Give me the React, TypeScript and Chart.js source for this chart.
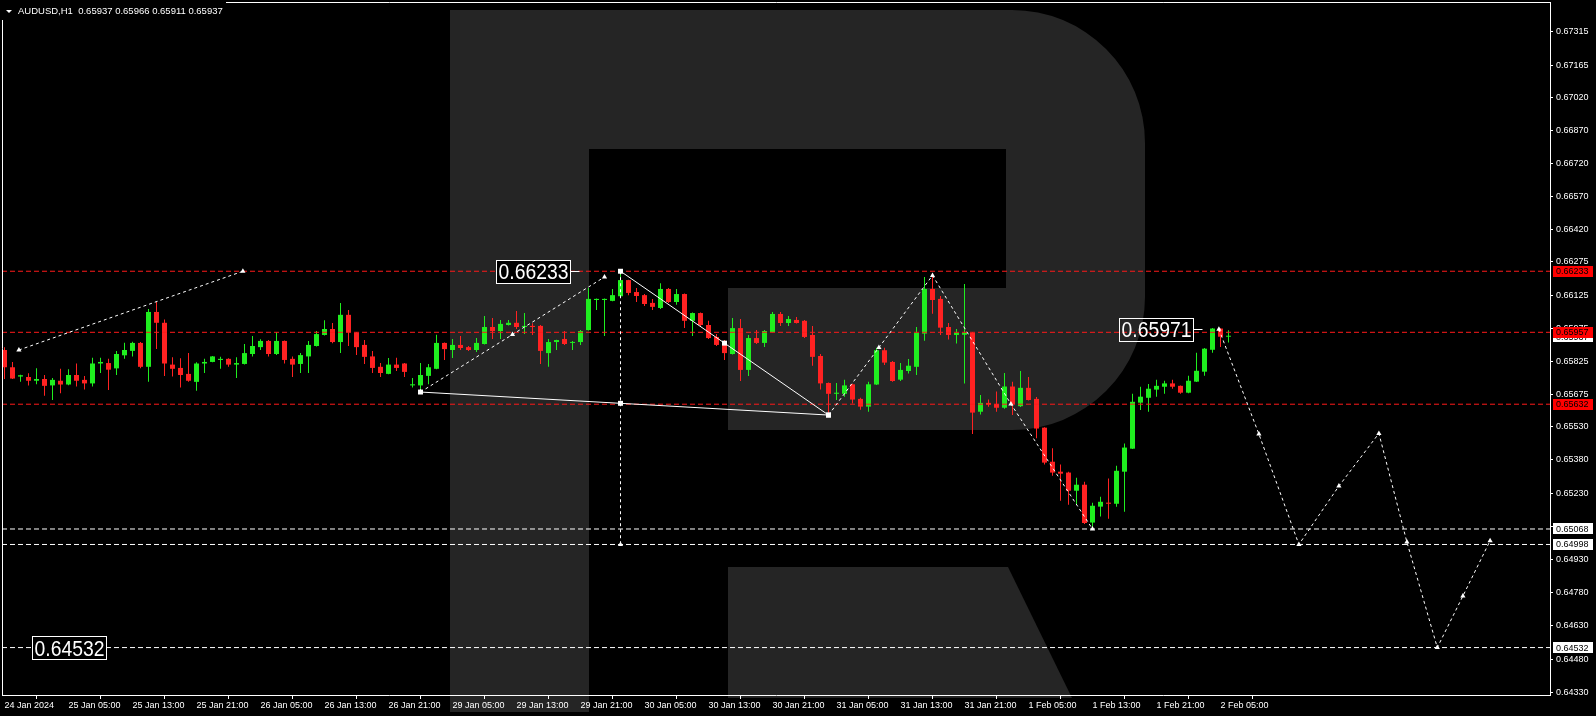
import { useEffect, useRef } from "react";
import { Chart, registerables } from "chart.js";

Chart.register(...registerables);

const FONT = "'Liberation Sans', Arimo, Arial, sans-serif";
const BULL = "#1fee1f";
const BEAR = "#ff2222";
const LEVEL_RED = "#ff1a1a";
const WATERMARK = "#252525";

const symbolTitle = "AUDUSD,H1";
const lastQuote = ["0.65937", "0.65966", "0.65911", "0.65937"];

const timeLabels = [
  "24 Jan 2024", "25 Jan 05:00", "25 Jan 13:00", "25 Jan 21:00", "26 Jan 05:00",
  "26 Jan 13:00", "26 Jan 21:00", "29 Jan 05:00", "29 Jan 13:00", "29 Jan 21:00",
  "30 Jan 05:00", "30 Jan 13:00", "30 Jan 21:00", "31 Jan 05:00", "31 Jan 13:00",
  "31 Jan 21:00", "1 Feb 05:00", "1 Feb 13:00", "1 Feb 21:00", "2 Feb 05:00",
];
const barsPerLabel = 8;

const priceTicks = [
  0.67315, 0.67165, 0.6702, 0.6687, 0.6672, 0.6657, 0.6642, 0.66275, 0.66125, 0.65975,
  0.65825, 0.65675, 0.6553, 0.6538, 0.6523, 0.6508, 0.6493, 0.6478, 0.6463, 0.6448, 0.6433,
];

const opens = [
  0.65877, 0.65799, 0.65757, 0.65755, 0.65738, 0.65746, 0.65717, 0.65738, 0.65721, 0.65764,
  0.65742, 0.65726, 0.65816, 0.65818, 0.65794, 0.65853, 0.65873, 0.65909, 0.65801, 0.66049,
  0.66000, 0.65811, 0.65796, 0.65769, 0.65733, 0.65816, 0.65823, 0.65832, 0.65837, 0.65811,
  0.65814, 0.65859, 0.65890, 0.65918, 0.65859, 0.65918, 0.65837, 0.65814, 0.65848, 0.65895,
  0.65945, 0.65972, 0.65913, 0.66036, 0.65955, 0.65900, 0.65848, 0.65801, 0.65769, 0.65811,
  0.65816, 0.65717, 0.65717, 0.65760, 0.65792, 0.65909, 0.65877, 0.65900, 0.65890, 0.65877,
  0.65904, 0.65981, 0.65963, 0.65990, 0.66000, 0.65981, 0.65986, 0.65986, 0.65863, 0.65913,
  0.65927, 0.65909, 0.65913, 0.65967, 0.66103, 0.66103, 0.66099, 0.66120, 0.66193, 0.66139,
  0.66125, 0.66090, 0.66067, 0.66153, 0.66094, 0.66130, 0.66009, 0.66044, 0.65990, 0.65936,
  0.65900, 0.65859, 0.65976, 0.65787, 0.65931, 0.65909, 0.65958, 0.66040, 0.65999, 0.66013,
  0.66009, 0.65945, 0.65850, 0.65728, 0.65679, 0.65679, 0.65722, 0.65656, 0.65621, 0.65721,
  0.65876, 0.65823, 0.65743, 0.65782, 0.65801, 0.65951, 0.66153, 0.66108, 0.65981, 0.65945,
  0.65946, 0.65954, 0.65598, 0.65638, 0.65633, 0.65616, 0.65712, 0.65623, 0.65706, 0.65656,
  0.65526, 0.65372, 0.65327, 0.65323, 0.65241, 0.65268, 0.65097, 0.65169, 0.65187, 0.65182,
  0.65327, 0.65431, 0.65639, 0.65661, 0.65698, 0.65711, 0.65726, 0.65715, 0.65684, 0.65734,
  0.65779, 0.65878, 0.65974, 0.65937,
];
const highs = [
  0.65890, 0.65823, 0.65765, 0.65772, 0.65795, 0.65764, 0.65750, 0.65792, 0.65790, 0.65816,
  0.65760, 0.65842, 0.65842, 0.65837, 0.65873, 0.65910, 0.65914, 0.65913, 0.66062, 0.66094,
  0.66015, 0.65844, 0.65840, 0.65863, 0.65822, 0.65837, 0.65850, 0.65846, 0.65840, 0.65844,
  0.65904, 0.65940, 0.65926, 0.65922, 0.65957, 0.65920, 0.65848, 0.65863, 0.65918, 0.65963,
  0.66011, 0.65999, 0.66089, 0.66058, 0.65958, 0.65922, 0.65873, 0.65818, 0.65841, 0.65842,
  0.65818, 0.65750, 0.65818, 0.65814, 0.65946, 0.65911, 0.65927, 0.65940, 0.65895, 0.65931,
  0.66031, 0.66022, 0.66013, 0.66013, 0.66053, 0.66044, 0.65998, 0.65990, 0.65927, 0.65923,
  0.65963, 0.65918, 0.65967, 0.66157, 0.66110, 0.66110, 0.66153, 0.66233, 0.66195, 0.66157,
  0.66130, 0.66108, 0.66179, 0.66157, 0.66153, 0.66132, 0.66046, 0.66046, 0.66009, 0.65949,
  0.65922, 0.66022, 0.66017, 0.65945, 0.65967, 0.65967, 0.66049, 0.66049, 0.66031, 0.66026,
  0.66013, 0.65986, 0.65859, 0.65730, 0.65728, 0.65742, 0.65725, 0.65661, 0.65734, 0.65887,
  0.65887, 0.65827, 0.65818, 0.65836, 0.65981, 0.66207, 0.66216, 0.66121, 0.65999, 0.65972,
  0.66175, 0.65958, 0.65674, 0.65653, 0.65689, 0.65773, 0.65733, 0.65782, 0.65755, 0.65665,
  0.65528, 0.65433, 0.65359, 0.65327, 0.65300, 0.65282, 0.65187, 0.65214, 0.65296, 0.65354,
  0.65454, 0.65679, 0.65711, 0.65723, 0.65743, 0.65738, 0.65743, 0.65716, 0.65761, 0.65865,
  0.65886, 0.65976, 0.65975, 0.65966,
];
const lows = [
  0.65746, 0.65746, 0.65734, 0.65717, 0.65722, 0.65670, 0.65651, 0.65681, 0.65718, 0.65712,
  0.65699, 0.65712, 0.65773, 0.65696, 0.65764, 0.65837, 0.65848, 0.65794, 0.65733, 0.65881,
  0.65760, 0.65757, 0.65707, 0.65733, 0.65693, 0.65773, 0.65822, 0.65792, 0.65801, 0.65751,
  0.65811, 0.65848, 0.65877, 0.65848, 0.65854, 0.65816, 0.65755, 0.65773, 0.65773, 0.65893,
  0.65943, 0.65907, 0.65863, 0.65895, 0.65854, 0.65814, 0.65773, 0.65755, 0.65767, 0.65782,
  0.65755, 0.65708, 0.65696, 0.65722, 0.65790, 0.65832, 0.65841, 0.65877, 0.65873, 0.65868,
  0.65902, 0.65927, 0.65927, 0.65988, 0.65972, 0.65949, 0.65945, 0.65814, 0.65801, 0.65877,
  0.65900, 0.65877, 0.65900, 0.65965, 0.66058, 0.65940, 0.66097, 0.66118, 0.66125, 0.66094,
  0.66076, 0.66058, 0.66062, 0.66090, 0.66081, 0.65977, 0.65940, 0.65986, 0.65927, 0.65895,
  0.65832, 0.65857, 0.65737, 0.65759, 0.65904, 0.65891, 0.65956, 0.65986, 0.65986, 0.65997,
  0.65931, 0.65806, 0.65698, 0.65586, 0.65651, 0.65666, 0.65635, 0.65607, 0.65598, 0.65719,
  0.65809, 0.65733, 0.65737, 0.65771, 0.65764, 0.65919, 0.66041, 0.65945, 0.65924, 0.65906,
  0.65726, 0.65497, 0.65585, 0.65621, 0.65598, 0.65611, 0.65583, 0.65619, 0.65649, 0.65478,
  0.65359, 0.65309, 0.65196, 0.65178, 0.65178, 0.65090, 0.65068, 0.65124, 0.65114, 0.65169,
  0.65146, 0.65429, 0.65606, 0.65598, 0.65666, 0.65679, 0.65702, 0.65679, 0.65682, 0.65732,
  0.65761, 0.65865, 0.65891, 0.65911,
];
const closes = [
  0.65799, 0.65748, 0.65763, 0.65738, 0.65746, 0.65715, 0.65742, 0.65721, 0.65764, 0.65738,
  0.65726, 0.65816, 0.65823, 0.65788, 0.65859, 0.65877, 0.65909, 0.65801, 0.66049, 0.66000,
  0.65816, 0.65792, 0.65764, 0.65738, 0.65816, 0.65823, 0.65848, 0.65837, 0.65811, 0.65818,
  0.65863, 0.65895, 0.65918, 0.65859, 0.65918, 0.65832, 0.65811, 0.65854, 0.65900, 0.65949,
  0.65972, 0.65913, 0.66036, 0.65958, 0.65890, 0.65846, 0.65796, 0.65773, 0.65811, 0.65796,
  0.65778, 0.65722, 0.65764, 0.65799, 0.65909, 0.65881, 0.65900, 0.65886, 0.65877, 0.65909,
  0.65981, 0.65963, 0.65995, 0.66000, 0.65981, 0.65986, 0.65981, 0.65873, 0.65913, 0.65922,
  0.65904, 0.65913, 0.65963, 0.66108, 0.66108, 0.66108, 0.66125, 0.66193, 0.66135, 0.66121,
  0.66085, 0.66072, 0.66153, 0.66094, 0.66130, 0.66009, 0.66044, 0.65990, 0.65931, 0.65900,
  0.65863, 0.65976, 0.65787, 0.65931, 0.65909, 0.65963, 0.66040, 0.65999, 0.66017, 0.65999,
  0.65936, 0.65846, 0.65726, 0.65679, 0.65684, 0.65717, 0.65653, 0.65621, 0.65722, 0.65876,
  0.65820, 0.65737, 0.65787, 0.65806, 0.65954, 0.66153, 0.66103, 0.65978, 0.65945, 0.65954,
  0.65954, 0.65594, 0.65638, 0.65630, 0.65616, 0.65712, 0.65633, 0.65706, 0.65651, 0.65522,
  0.65368, 0.65323, 0.65318, 0.65241, 0.65268, 0.65095, 0.65173, 0.65191, 0.65182, 0.65331,
  0.65436, 0.65643, 0.65666, 0.65702, 0.65715, 0.65726, 0.65711, 0.65684, 0.65738, 0.65783,
  0.65883, 0.65974, 0.65937, 0.65937,
];

const redLevels = [0.66233, 0.65957, 0.65632];
const whiteLevels = [0.65068, 0.64998, 0.64532];
const bidPrice = 0.65937;

// analysis drawings (bar index, price)
const oldForecastX = [1.8, 29.8];
const oldForecastY = [0.65877, 0.66233];
const riseX = [52, 63.5, 75];
const riseY = [0.65687, 0.65947, 0.66207];
const baseLineX = [52, 77, 103];
const baseLineY = [0.65687, 0.65636, 0.65583];
const fallLineX = [77, 90, 103];
const fallLineY = [0.66233, 0.65908, 0.65583];
const dropX = [77, 77, 77];
const dropY = [0.66233, 0.65636, 0.64998];
const waveX = [103, 109.3, 116, 125.8, 136];
const waveY = [0.65583, 0.65888, 0.66214, 0.65633, 0.65068];
const forecastX = [151.8, 156.8, 161.8, 166.8, 171.8, 175.3, 179.1, 182.3, 185.7];
const forecastY = [0.65971, 0.65497, 0.64998, 0.65262, 0.655, 0.65009, 0.64532, 0.64765, 0.65015];

const X_MIN = -0.3125;
const X_MAX = 193.1875;
const Y_MIN = 0.643176;
const Y_MAX = 0.6745;

function pts(xs: number[], ys: number[]) {
  return xs.map((x, k) => ({ x, y: ys[k] }));
}

export default function App() {
  const ref = useRef<HTMLCanvasElement | null>(null);

  useEffect(() => {
    document.body.style.margin = "0";
    document.body.style.background = "#000";
    const canvas = ref.current;
    if (!canvas) return;
    const idx = opens.map((_, i) => i);
    const colors = idx.map((i) => (closes[i] >= opens[i] ? BULL : BEAR));

    const line = (xs: number[], ys: number[], dash: number[], style: string, r: number, order: number, pointR?: number[]) => ({
      type: "line" as const,
      data: pts(xs, ys),
      borderColor: "#ffffff",
      borderWidth: 1,
      borderDash: dash,
      pointRadius: pointR ?? xs.map(() => r),
      pointStyle: style,
      pointBackgroundColor: "#ffffff",
      pointBorderWidth: 0,
      tension: 0,
      order,
    });
    const level = (p: number, color: string) => ({
      type: "line" as const,
      data: [{ x: X_MIN, y: p }, { x: X_MAX, y: p }],
      borderColor: color,
      borderWidth: 1,
      borderDash: [5, 3],
      pointRadius: 0,
      order: 5,
    });

    const plugin = {
      id: "mtLook",
      beforeDraw(chart: any) {
        const { ctx, width, height } = chart;
        ctx.save();
        ctx.fillStyle = "#000";
        ctx.fillRect(0, 0, width, height);
        ctx.fillStyle = WATERMARK;
        ctx.beginPath();
        ctx.moveTo(450, 10);
        ctx.lineTo(1012, 10);
        ctx.arc(1012, 143, 133, -Math.PI / 2, 0);
        ctx.lineTo(1145, 297);
        ctx.arc(1012, 297, 133, 0, Math.PI / 2);
        ctx.lineTo(728, 430);
        ctx.lineTo(728, 288);
        ctx.lineTo(1006, 288);
        ctx.lineTo(1006, 149);
        ctx.lineTo(589, 149);
        ctx.lineTo(589, 712);
        ctx.lineTo(450, 712);
        ctx.closePath();
        ctx.fill();
        ctx.beginPath();
        ctx.moveTo(728, 567);
        ctx.lineTo(1008, 567);
        ctx.lineTo(1072, 698);
        ctx.lineTo(728, 698);
        ctx.closePath();
        ctx.fill();
        ctx.restore();
      },
      afterDraw(chart: any) {
        const { ctx, chartArea: a } = chart;
        const xs = chart.scales.x;
        const ys = chart.scales.y;
        ctx.save();
        // frame top / left
        ctx.strokeStyle = "#fff";
        ctx.lineWidth = 1;
        ctx.setLineDash([]);
        ctx.beginPath();
        ctx.moveTo(a.left + 0.5, a.bottom);
        ctx.lineTo(a.left + 0.5, a.top + 0.5);
        ctx.lineTo(a.right, a.top + 0.5);
        ctx.stroke();

        // header
        ctx.fillStyle = "#000";
        ctx.fillRect(0, 0, 226, 20);
        ctx.fillStyle = "#fff";
        ctx.beginPath();
        ctx.moveTo(6, 10);
        ctx.lineTo(12, 10);
        ctx.lineTo(9, 13);
        ctx.closePath();
        ctx.fill();
        ctx.font = `9.5px ${FONT}`;
        ctx.textAlign = "left";
        ctx.textBaseline = "alphabetic";
        ctx.fillText(`${symbolTitle}  ${lastQuote.join(" ")}`, 18, 14);

        // price boxes on axis
        const box = (p: number, text: string, bg: string) => {
          const y = ys.getPixelForValue(p);
          ctx.fillStyle = bg;
          ctx.fillRect(a.right + 3, Math.round(y - 5.5), 40, 11);
          ctx.fillStyle = "#000";
          ctx.font = `9px ${FONT}`;
          ctx.textAlign = "left";
          ctx.textBaseline = "middle";
          ctx.fillText(text, a.right + 6, y + 0.5);
        };
        box(bidPrice, bidPrice.toFixed(5), "#ffffff");
        redLevels.forEach((p) => box(p, p.toFixed(5), "#ff0000"));
        whiteLevels.forEach((p) => box(p, p.toFixed(5), "#ffffff"));

        // big price labels
        const big = (p: number, rightIdx: number, filled: boolean, dash: boolean) => {
          const rx = xs.getPixelForValue(rightIdx);
          const cy = ys.getPixelForValue(p);
          const w = 74;
          const h = 23;
          const l = Math.round(rx - w) + 0.5;
          const t = Math.round(cy - h / 2) + 0.5;
          if (filled) {
            ctx.fillStyle = "#000";
            ctx.fillRect(l, t, w, h);
          }
          ctx.strokeStyle = "#fff";
          ctx.lineWidth = 1;
          ctx.strokeRect(l, t, w, h);
          if (dash) {
            ctx.beginPath();
            ctx.moveTo(l + w, Math.round(cy) + 0.5);
            ctx.lineTo(l + w + 9, Math.round(cy) + 0.5);
            ctx.stroke();
          }
          ctx.fillStyle = "#fff";
          ctx.font = `22px ${FONT}`;
          ctx.textAlign = "center";
          ctx.textBaseline = "alphabetic";
          ctx.fillText(p.toFixed(5), l + w / 2, cy + 8, 70);
        };
        big(redLevels[0], 70.7, true, true);
        big(forecastY[0], 148.6, false, true);
        big(whiteLevels[2], 12.7, true, false);
        ctx.restore();
      },
    };

    const chart = new Chart(canvas, {
      type: "bar",
      data: {
        datasets: [
          {
            type: "bar",
            data: idx.map((i) => ({ x: i, y: [lows[i], highs[i]] })) as any,
            backgroundColor: colors,
            barThickness: 1,
            grouped: false,
            minBarLength: 1,
            inflateAmount: 0,
            borderWidth: 0,
            order: 20,
          } as any,
          {
            type: "bar",
            data: idx.map((i) => ({ x: i, y: [opens[i], closes[i]] })) as any,
            backgroundColor: colors,
            barThickness: 5,
            grouped: false,
            minBarLength: 1,
            inflateAmount: 0,
            borderWidth: 0,
            order: 19,
          } as any,
          ...redLevels.map((p) => level(p, LEVEL_RED)),
          ...whiteLevels.map((p) => level(p, "#ffffff")),
          line(oldForecastX, oldForecastY, [3, 3], "triangle", 3, 2),
          line(riseX, riseY, [3, 3], "triangle", 3, 2),
          line(baseLineX, baseLineY, [], "rect", 3.5, 1),
          line(fallLineX, fallLineY, [], "rect", 3.5, 1),
          line(dropX, dropY, [3, 3], "triangle", 3, 2, [0, 3, 3]),
          line(waveX, waveY, [3, 3], "triangle", 3, 2, [0, 3, 3, 3, 3]),
          line(forecastX, forecastY, [3, 3], "triangle", 3, 2),
        ] as any,
      },
      options: {
        responsive: false,
        animation: false,
        devicePixelRatio: 1,
        events: [],
        layout: { padding: { top: 2, left: 2, right: 0, bottom: 0 }, autoPadding: false } as any,
        plugins: { legend: { display: false }, tooltip: { enabled: false } },
        scales: {
          x: {
            type: "linear",
            min: X_MIN,
            max: X_MAX,
            offset: false,
            afterBuildTicks: (s: any) => {
              s.ticks = timeLabels.map((_, k) => ({ value: k * barsPerLabel }));
            },
            afterFit: (s: any) => {
              s.height = 21;
              s.paddingLeft = 0;
              s.paddingRight = 0;
            },
            ticks: {
              autoSkip: false,
              maxRotation: 0,
              minRotation: 0,
              align: "start",
              color: "#ffffff",
              padding: 1,
              font: { family: FONT, size: 9 },
              callback: (v: any) => timeLabels[Math.round(Number(v) / barsPerLabel)] ?? "",
            },
            grid: { drawOnChartArea: false, drawTicks: true, tickLength: 4, color: "#ffffff" },
            border: { display: true, color: "#ffffff", width: 1 },
          },
          y: {
            type: "linear",
            position: "right",
            min: Y_MIN,
            max: Y_MAX,
            afterBuildTicks: (s: any) => {
              s.ticks = priceTicks.map((v) => ({ value: v }));
            },
            afterFit: (s: any) => {
              s.width = 46;
              s.paddingTop = 0;
              s.paddingBottom = 0;
            },
            ticks: {
              color: "#ffffff",
              padding: 3,
              crossAlign: "near",
              font: { family: FONT, size: 9 },
              callback: (v: any) => Number(v).toFixed(5),
            },
            grid: { drawOnChartArea: false, drawTicks: true, tickLength: 3, color: "#ffffff" },
            border: { display: true, color: "#ffffff", width: 1 },
          },
        },
      } as any,
      plugins: [plugin],
    });
    return () => chart.destroy();
  }, []);

  return (
    <canvas
      ref={ref}
      width={1596}
      height={716}
      style={{ display: "block", width: "1596px", height: "716px" }}
    />
  );
}
